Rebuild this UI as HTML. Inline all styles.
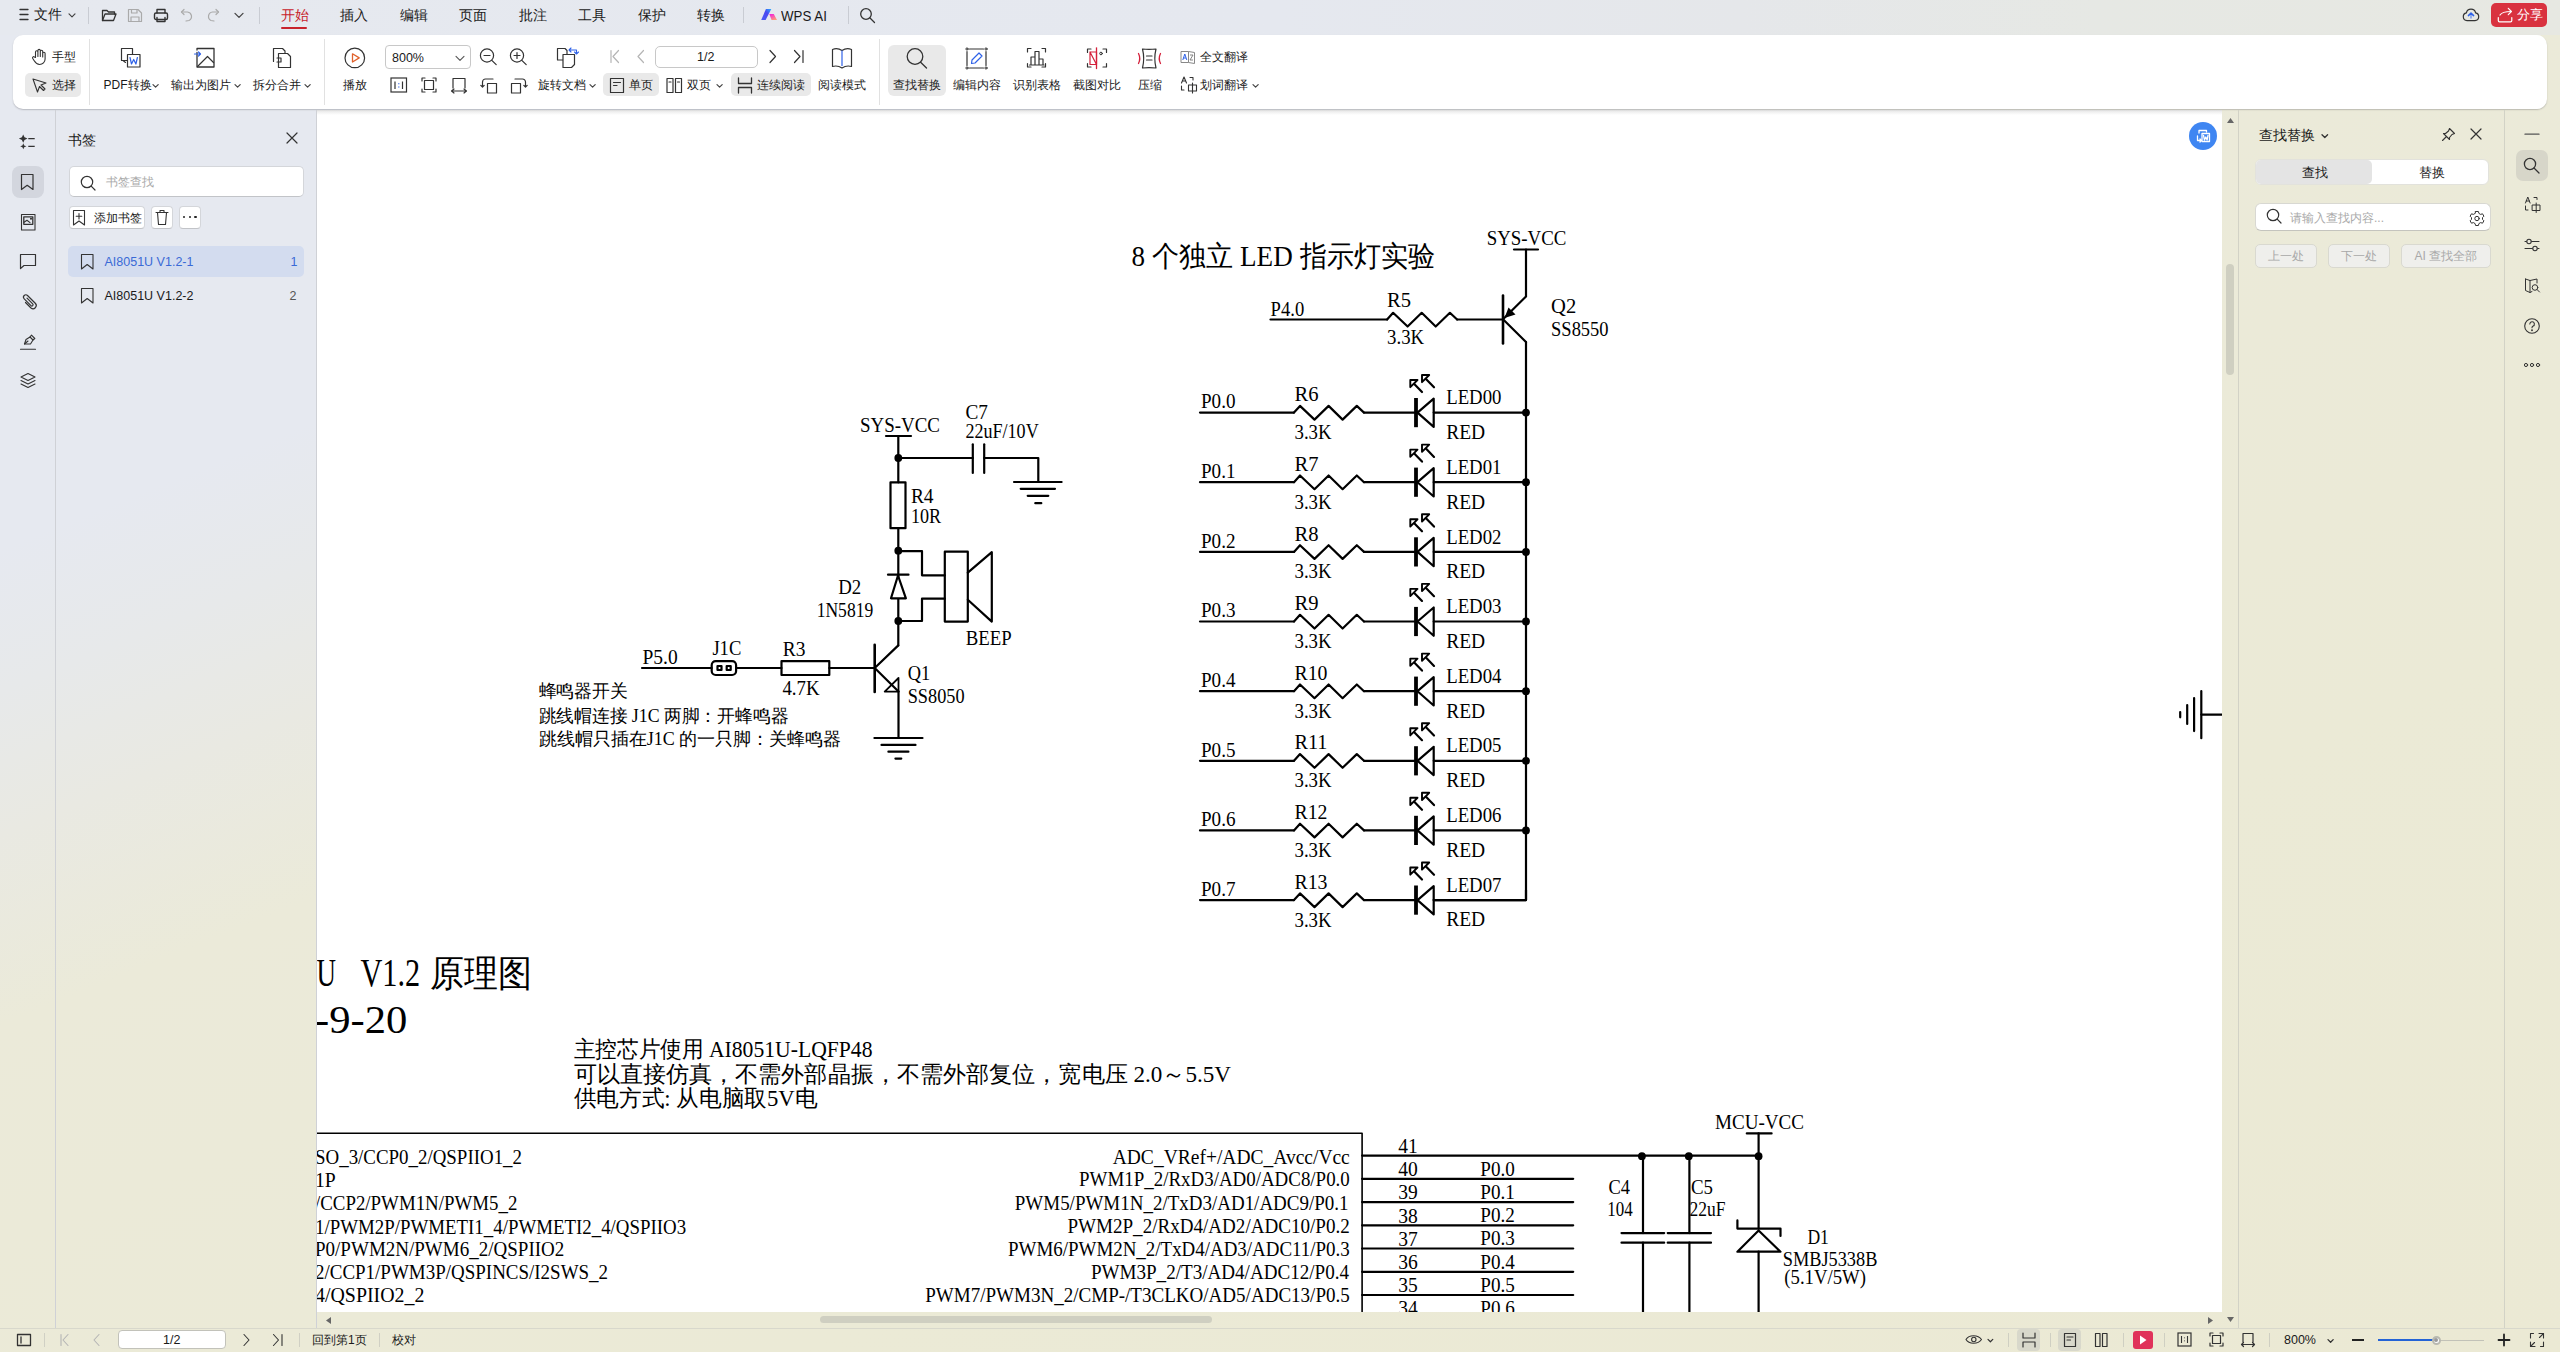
<!DOCTYPE html>
<html><head><meta charset="utf-8"><title>WPS PDF</title>
<style>
*{margin:0;padding:0;box-sizing:border-box}
html,body{width:2560px;height:1352px;overflow:hidden}
body{position:relative;font-family:"Liberation Sans",sans-serif;font-size:12px;color:#1a1a1a;
background:linear-gradient(158deg,#e6e9f0 0%,#e6e9f0 23%,#e7e9ea 29%,#e9e9e2 35%,#ebead9 43%,#ebead6 70%,#ebe9d4 100%)}
.a{position:absolute;white-space:nowrap}
svg.a{overflow:visible}
</style></head><body>
<div class="a" style="left:0;top:0;width:2560px;height:35px;background:linear-gradient(90deg,#e6e9ef 0%,#e5e8ef 50%,#e5e7ea 68%,#e6e8e4 82%,#e7e8e2 100%)"></div>
<div class="a" style="left:317px;top:110px;width:1905px;height:1202px;background:#fff;overflow:hidden">
<svg class="a" style="left:-317px;top:-110px" width="2560" height="1352" viewBox="0 0 2560 1352"><g fill="none" stroke="#000" stroke-width="2.2" stroke-linecap="round" stroke-linejoin="round"><line x1="1514.0" y1="249.5" x2="1538.0" y2="249.5"/><line x1="1526.0" y1="249.5" x2="1526.0" y2="296.0"/><line x1="1503" y1="295.6" x2="1503" y2="343.4" stroke-width="2.6"/><polyline points="1503.0,319.2 1526.0,296.5"/><polyline points="1503.0,319.2 1526.0,342.0"/><polygon points="1504.5,318 1508.5,307.5 1515.5,314.5" fill="#000" stroke="none"/><line x1="1526.0" y1="342.0" x2="1526.0" y2="900.0"/><polyline points="1270.5,319.5 1387.1,319.5"/><polyline points="1387.1,319.5 1393.1,312.8 1407.6,326.5 1421.7,312.8 1435.7,326.5 1449.9,312.8 1457.1,319.5"/><polyline points="1457.1,319.5 1503.0,319.5"/><polyline points="1200.0,412.6 1294.0,412.6"/><polyline points="1294.0,412.6 1300.0,405.9 1314.5,419.6 1328.6,405.9 1342.6,419.6 1356.8,405.9 1364.0,412.6"/><polyline points="1364.0,412.6 1416.0,412.6"/><line x1="1416" y1="398.0" x2="1416" y2="427.2" stroke-width="3.8" stroke-linecap="butt"/><polygon points="1417.5,412.6 1433.7,398.6 1433.7,426.9"/><polyline points="1433.7,412.6 1526.0,412.6"/><circle cx="1526.0" cy="412.6" r="3.9" fill="#000" stroke="none"/><line x1="1422.0" y1="392.0" x2="1412.8" y2="382.5"/><polygon points="1410.3,380.0 1417.5,380.0 1410.3,387.2" fill="#fff" stroke-width="1.9"/><line x1="1434.0" y1="387.3" x2="1424.5" y2="377.5"/><polygon points="1422.0,375.0 1429.2,375.0 1422.0,382.2" fill="#fff" stroke-width="1.9"/><polyline points="1200.0,482.2 1294.0,482.2"/><polyline points="1294.0,482.2 1300.0,475.5 1314.5,489.2 1328.6,475.5 1342.6,489.2 1356.8,475.5 1364.0,482.2"/><polyline points="1364.0,482.2 1416.0,482.2"/><line x1="1416" y1="467.6" x2="1416" y2="496.8" stroke-width="3.8" stroke-linecap="butt"/><polygon points="1417.5,482.2 1433.7,468.2 1433.7,496.5"/><polyline points="1433.7,482.2 1526.0,482.2"/><circle cx="1526.0" cy="482.2" r="3.9" fill="#000" stroke="none"/><line x1="1422.0" y1="461.6" x2="1412.8" y2="452.1"/><polygon points="1410.3,449.6 1417.5,449.6 1410.3,456.8" fill="#fff" stroke-width="1.9"/><line x1="1434.0" y1="456.9" x2="1424.5" y2="447.1"/><polygon points="1422.0,444.6 1429.2,444.6 1422.0,451.8" fill="#fff" stroke-width="1.9"/><polyline points="1200.0,551.9 1294.0,551.9"/><polyline points="1294.0,551.9 1300.0,545.2 1314.5,558.9 1328.6,545.2 1342.6,558.9 1356.8,545.2 1364.0,551.9"/><polyline points="1364.0,551.9 1416.0,551.9"/><line x1="1416" y1="537.3" x2="1416" y2="566.5" stroke-width="3.8" stroke-linecap="butt"/><polygon points="1417.5,551.9 1433.7,537.9 1433.7,566.2"/><polyline points="1433.7,551.9 1526.0,551.9"/><circle cx="1526.0" cy="551.9" r="3.9" fill="#000" stroke="none"/><line x1="1422.0" y1="531.3" x2="1412.8" y2="521.8"/><polygon points="1410.3,519.3 1417.5,519.3 1410.3,526.5" fill="#fff" stroke-width="1.9"/><line x1="1434.0" y1="526.6" x2="1424.5" y2="516.8"/><polygon points="1422.0,514.3 1429.2,514.3 1422.0,521.5" fill="#fff" stroke-width="1.9"/><polyline points="1200.0,621.5 1294.0,621.5"/><polyline points="1294.0,621.5 1300.0,614.8 1314.5,628.5 1328.6,614.8 1342.6,628.5 1356.8,614.8 1364.0,621.5"/><polyline points="1364.0,621.5 1416.0,621.5"/><line x1="1416" y1="606.9" x2="1416" y2="636.1" stroke-width="3.8" stroke-linecap="butt"/><polygon points="1417.5,621.5 1433.7,607.5 1433.7,635.8"/><polyline points="1433.7,621.5 1526.0,621.5"/><circle cx="1526.0" cy="621.5" r="3.9" fill="#000" stroke="none"/><line x1="1422.0" y1="600.9" x2="1412.8" y2="591.4"/><polygon points="1410.3,588.9 1417.5,588.9 1410.3,596.1" fill="#fff" stroke-width="1.9"/><line x1="1434.0" y1="596.2" x2="1424.5" y2="586.4"/><polygon points="1422.0,583.9 1429.2,583.9 1422.0,591.1" fill="#fff" stroke-width="1.9"/><polyline points="1200.0,691.2 1294.0,691.2"/><polyline points="1294.0,691.2 1300.0,684.5 1314.5,698.2 1328.6,684.5 1342.6,698.2 1356.8,684.5 1364.0,691.2"/><polyline points="1364.0,691.2 1416.0,691.2"/><line x1="1416" y1="676.6" x2="1416" y2="705.8" stroke-width="3.8" stroke-linecap="butt"/><polygon points="1417.5,691.2 1433.7,677.2 1433.7,705.5"/><polyline points="1433.7,691.2 1526.0,691.2"/><circle cx="1526.0" cy="691.2" r="3.9" fill="#000" stroke="none"/><line x1="1422.0" y1="670.6" x2="1412.8" y2="661.1"/><polygon points="1410.3,658.6 1417.5,658.6 1410.3,665.8" fill="#fff" stroke-width="1.9"/><line x1="1434.0" y1="665.9" x2="1424.5" y2="656.1"/><polygon points="1422.0,653.6 1429.2,653.6 1422.0,660.8" fill="#fff" stroke-width="1.9"/><polyline points="1200.0,760.8 1294.0,760.8"/><polyline points="1294.0,760.8 1300.0,754.1 1314.5,767.8 1328.6,754.1 1342.6,767.8 1356.8,754.1 1364.0,760.8"/><polyline points="1364.0,760.8 1416.0,760.8"/><line x1="1416" y1="746.2" x2="1416" y2="775.4" stroke-width="3.8" stroke-linecap="butt"/><polygon points="1417.5,760.8 1433.7,746.8 1433.7,775.1"/><polyline points="1433.7,760.8 1526.0,760.8"/><circle cx="1526.0" cy="760.8" r="3.9" fill="#000" stroke="none"/><line x1="1422.0" y1="740.2" x2="1412.8" y2="730.7"/><polygon points="1410.3,728.2 1417.5,728.2 1410.3,735.4" fill="#fff" stroke-width="1.9"/><line x1="1434.0" y1="735.5" x2="1424.5" y2="725.7"/><polygon points="1422.0,723.2 1429.2,723.2 1422.0,730.4" fill="#fff" stroke-width="1.9"/><polyline points="1200.0,830.4 1294.0,830.4"/><polyline points="1294.0,830.4 1300.0,823.7 1314.5,837.4 1328.6,823.7 1342.6,837.4 1356.8,823.7 1364.0,830.4"/><polyline points="1364.0,830.4 1416.0,830.4"/><line x1="1416" y1="815.8" x2="1416" y2="845.0" stroke-width="3.8" stroke-linecap="butt"/><polygon points="1417.5,830.4 1433.7,816.4 1433.7,844.7"/><polyline points="1433.7,830.4 1526.0,830.4"/><circle cx="1526.0" cy="830.4" r="3.9" fill="#000" stroke="none"/><line x1="1422.0" y1="809.8" x2="1412.8" y2="800.3"/><polygon points="1410.3,797.8 1417.5,797.8 1410.3,805.0" fill="#fff" stroke-width="1.9"/><line x1="1434.0" y1="805.1" x2="1424.5" y2="795.3"/><polygon points="1422.0,792.8 1429.2,792.8 1422.0,800.0" fill="#fff" stroke-width="1.9"/><polyline points="1200.0,900.1 1294.0,900.1"/><polyline points="1294.0,900.1 1300.0,893.4 1314.5,907.1 1328.6,893.4 1342.6,907.1 1356.8,893.4 1364.0,900.1"/><polyline points="1364.0,900.1 1416.0,900.1"/><line x1="1416" y1="885.5" x2="1416" y2="914.7" stroke-width="3.8" stroke-linecap="butt"/><polygon points="1417.5,900.1 1433.7,886.1 1433.7,914.4"/><polyline points="1433.7,900.1 1526.0,900.1"/><polyline points="1433.7,900.1 1526.0,900.1 1526.0,890.1"/><line x1="1422.0" y1="879.5" x2="1412.8" y2="870.0"/><polygon points="1410.3,867.5 1417.5,867.5 1410.3,874.7" fill="#fff" stroke-width="1.9"/><line x1="1434.0" y1="874.8" x2="1424.5" y2="865.0"/><polygon points="1422.0,862.5 1429.2,862.5 1422.0,869.7" fill="#fff" stroke-width="1.9"/><line x1="886.0" y1="436.0" x2="911.0" y2="436.0"/><line x1="898.3" y1="436.0" x2="898.3" y2="482.3"/><circle cx="898.3" cy="458.0" r="3.9" fill="#000" stroke="none"/><polyline points="898.3,458.0 972.8,458.0"/><line x1="972.8" y1="444.3" x2="972.8" y2="472.9"/><line x1="984.2" y1="444.3" x2="984.2" y2="472.9"/><polyline points="984.2,458.0 1038.3,458.0 1038.3,482.0"/><line x1="1014.0" y1="482.0" x2="1061.6" y2="482.0"/><line x1="1020.7" y1="488.8" x2="1055.0" y2="488.8"/><line x1="1027.7" y1="495.8" x2="1048.3" y2="495.8"/><line x1="1035.3" y1="503.2" x2="1041.3" y2="503.2"/><rect x="890.5" y="482.3" width="15.0" height="45.9" rx="0"/><line x1="898.3" y1="528.2" x2="898.3" y2="645.4"/><circle cx="898.3" cy="550.7" r="3.9" fill="#000" stroke="none"/><polyline points="898.3,551.2 922.0,551.2 922.0,575.3 944.8,575.3"/><rect x="944.8" y="551.7" width="23.0" height="69.9" rx="0"/><polyline points="967.8,572.7 991.8,552.1 991.8,621.6 967.8,599.7"/><polyline points="944.8,598.7 922.0,598.7 922.0,621.0 898.3,621.0"/><line x1="888.0" y1="574.7" x2="908.5" y2="574.7"/><polygon points="898,575.5 891,598.3 905.9,598.3" fill="#fff"/><circle cx="898.3" cy="621.0" r="3.9" fill="#000" stroke="none"/><polyline points="642.0,668.0 711.7,668.0"/><rect x="711.7" y="661.2" width="24.4" height="13.8" rx="4" stroke-width="2.2"/><rect x="717.5" y="666.0" width="4.0" height="4.0" rx="0"/><rect x="726.7" y="666.0" width="4.0" height="4.0" rx="0"/><polyline points="736.1,668.0 781.5,668.0"/><rect x="781.5" y="661.2" width="47.8" height="13.8" stroke-width="2.2"/><polyline points="829.3,668.0 874.7,668.0"/><line x1="874.7" y1="644.7" x2="874.7" y2="692" stroke-width="2.6"/><polyline points="874.7,668.0 898.3,645.4"/><polyline points="874.7,668.0 898.5,691.5"/><polygon points="884.7,691.6 898.5,678 898.5,691.6" stroke-width="1.8"/><line x1="898.5" y1="691.5" x2="898.5" y2="738.0"/><line x1="874.4" y1="738.0" x2="922.5" y2="738.0"/><line x1="881.5" y1="744.9" x2="915.5" y2="744.9"/><line x1="888.4" y1="751.7" x2="908.4" y2="751.7"/><line x1="895.4" y1="758.6" x2="901.3" y2="758.6"/><line x1="2201.3" y1="714.6" x2="2224.0" y2="714.6"/><line x1="2201.3" y1="691.0" x2="2201.3" y2="738.2"/><line x1="2194.1" y1="698.0" x2="2194.1" y2="731.1"/><line x1="2187.2" y1="705.0" x2="2187.2" y2="724.0"/><line x1="2180.2" y1="712.0" x2="2180.2" y2="717.3"/><polyline points="300,1133.3 1362.1,1133.3 1362.1,1330" stroke-width="1.6"/><polyline points="1362.1,1155.6 1758.6,1155.6"/><polyline points="1362.1,1178.8 1573.2,1178.8"/><polyline points="1362.1,1202.1 1573.2,1202.1"/><polyline points="1362.1,1225.3 1573.2,1225.3"/><polyline points="1362.1,1248.5 1573.2,1248.5"/><polyline points="1362.1,1271.8 1573.2,1271.8"/><polyline points="1362.1,1295.0 1573.2,1295.0"/><polyline points="1362.1,1318.2 1573.2,1318.2"/><line x1="1746.8" y1="1133.4" x2="1771.6" y2="1133.4"/><line x1="1758.6" y1="1133.4" x2="1758.6" y2="1228.6"/><circle cx="1641.9" cy="1156.2" r="3.9" fill="#000" stroke="none"/><circle cx="1688.8" cy="1156.2" r="3.9" fill="#000" stroke="none"/><circle cx="1758.6" cy="1156.2" r="3.9" fill="#000" stroke="none"/><line x1="1643.0" y1="1156.2" x2="1643.0" y2="1233.1"/><line x1="1621.5" y1="1233.1" x2="1664.2" y2="1233.1"/><line x1="1621.5" y1="1242.7" x2="1664.2" y2="1242.7"/><line x1="1643.0" y1="1242.7" x2="1643.0" y2="1330.0"/><line x1="1689.4" y1="1156.2" x2="1689.4" y2="1233.1"/><line x1="1667.7" y1="1233.1" x2="1711.0" y2="1233.1"/><line x1="1667.7" y1="1242.7" x2="1711.0" y2="1242.7"/><line x1="1689.4" y1="1242.7" x2="1689.4" y2="1330.0"/><polyline points="1737.4,1220.4 1737.4,1228.6 1780.5,1228.6 1780.5,1235.9"/><polygon points="1758.6,1230.5 1737.4,1251.7 1780.5,1251.7"/><line x1="1758.6" y1="1251.7" x2="1758.6" y2="1330.0"/></g><g font-family="Liberation Serif, serif" font-size="20.6" fill="#000"><text x="1486.7" y="244.5" textLength="79.7" lengthAdjust="spacingAndGlyphs">SYS-VCC</text><text x="1551.1" y="312.5">Q2</text><text x="1551.1" y="335.5" textLength="57.5" lengthAdjust="spacingAndGlyphs">SS8550</text><text x="1270.6" y="315.5" textLength="33.6" lengthAdjust="spacingAndGlyphs">P4.0</text><text x="1387.1" y="307.3">R5</text><text x="1387.1" y="344.1" textLength="37.1" lengthAdjust="spacingAndGlyphs">3.3K</text><text x="1131.6" y="266.3" font-size="29" textLength="303.5" lengthAdjust="spacingAndGlyphs">8 个独立 LED 指示灯实验</text><text x="1201.0" y="408.4" textLength="34.5" lengthAdjust="spacingAndGlyphs">P0.0</text><text x="1294.5" y="401.2">R6</text><text x="1294.5" y="439.1" textLength="37.1" lengthAdjust="spacingAndGlyphs">3.3K</text><text x="1446.2" y="404.2" textLength="55.2" lengthAdjust="spacingAndGlyphs">LED00</text><text x="1446.2" y="438.9" textLength="39.0" lengthAdjust="spacingAndGlyphs">RED</text><text x="1201.0" y="478.0" textLength="34.5" lengthAdjust="spacingAndGlyphs">P0.1</text><text x="1294.5" y="470.8">R7</text><text x="1294.5" y="508.7" textLength="37.1" lengthAdjust="spacingAndGlyphs">3.3K</text><text x="1446.2" y="473.8" textLength="55.2" lengthAdjust="spacingAndGlyphs">LED01</text><text x="1446.2" y="508.5" textLength="39.0" lengthAdjust="spacingAndGlyphs">RED</text><text x="1201.0" y="547.7" textLength="34.5" lengthAdjust="spacingAndGlyphs">P0.2</text><text x="1294.5" y="540.5">R8</text><text x="1294.5" y="578.4" textLength="37.1" lengthAdjust="spacingAndGlyphs">3.3K</text><text x="1446.2" y="543.5" textLength="55.2" lengthAdjust="spacingAndGlyphs">LED02</text><text x="1446.2" y="578.2" textLength="39.0" lengthAdjust="spacingAndGlyphs">RED</text><text x="1201.0" y="617.3" textLength="34.5" lengthAdjust="spacingAndGlyphs">P0.3</text><text x="1294.5" y="610.1">R9</text><text x="1294.5" y="648.0" textLength="37.1" lengthAdjust="spacingAndGlyphs">3.3K</text><text x="1446.2" y="613.1" textLength="55.2" lengthAdjust="spacingAndGlyphs">LED03</text><text x="1446.2" y="647.8" textLength="39.0" lengthAdjust="spacingAndGlyphs">RED</text><text x="1201.0" y="687.0" textLength="34.5" lengthAdjust="spacingAndGlyphs">P0.4</text><text x="1294.5" y="679.8" textLength="33.0" lengthAdjust="spacingAndGlyphs">R10</text><text x="1294.5" y="717.7" textLength="37.1" lengthAdjust="spacingAndGlyphs">3.3K</text><text x="1446.2" y="682.8" textLength="55.2" lengthAdjust="spacingAndGlyphs">LED04</text><text x="1446.2" y="717.5" textLength="39.0" lengthAdjust="spacingAndGlyphs">RED</text><text x="1201.0" y="756.6" textLength="34.5" lengthAdjust="spacingAndGlyphs">P0.5</text><text x="1294.5" y="749.4" textLength="33.0" lengthAdjust="spacingAndGlyphs">R11</text><text x="1294.5" y="787.3" textLength="37.1" lengthAdjust="spacingAndGlyphs">3.3K</text><text x="1446.2" y="752.4" textLength="55.2" lengthAdjust="spacingAndGlyphs">LED05</text><text x="1446.2" y="787.1" textLength="39.0" lengthAdjust="spacingAndGlyphs">RED</text><text x="1201.0" y="826.2" textLength="34.5" lengthAdjust="spacingAndGlyphs">P0.6</text><text x="1294.5" y="819.0" textLength="33.0" lengthAdjust="spacingAndGlyphs">R12</text><text x="1294.5" y="856.9" textLength="37.1" lengthAdjust="spacingAndGlyphs">3.3K</text><text x="1446.2" y="822.0" textLength="55.2" lengthAdjust="spacingAndGlyphs">LED06</text><text x="1446.2" y="856.7" textLength="39.0" lengthAdjust="spacingAndGlyphs">RED</text><text x="1201.0" y="895.9" textLength="34.5" lengthAdjust="spacingAndGlyphs">P0.7</text><text x="1294.5" y="888.7" textLength="33.0" lengthAdjust="spacingAndGlyphs">R13</text><text x="1294.5" y="926.6" textLength="37.1" lengthAdjust="spacingAndGlyphs">3.3K</text><text x="1446.2" y="891.7" textLength="55.2" lengthAdjust="spacingAndGlyphs">LED07</text><text x="1446.2" y="926.4" textLength="39.0" lengthAdjust="spacingAndGlyphs">RED</text><text x="860.0" y="432.0" textLength="80.0" lengthAdjust="spacingAndGlyphs">SYS-VCC</text><text x="965.4" y="419.0" textLength="22.5" lengthAdjust="spacingAndGlyphs">C7</text><text x="965.4" y="438.3" textLength="73.3" lengthAdjust="spacingAndGlyphs">22uF/10V</text><text x="910.9" y="503.4" textLength="22.7" lengthAdjust="spacingAndGlyphs">R4</text><text x="910.9" y="523.4" textLength="30.2" lengthAdjust="spacingAndGlyphs">10R</text><text x="838.2" y="594.4" textLength="23.0" lengthAdjust="spacingAndGlyphs">D2</text><text x="816.7" y="617.3" textLength="56.5" lengthAdjust="spacingAndGlyphs">1N5819</text><text x="965.8" y="645.2" textLength="45.9" lengthAdjust="spacingAndGlyphs">BEEP</text><text x="642.5" y="663.5" textLength="35.2" lengthAdjust="spacingAndGlyphs">P5.0</text><text x="712.4" y="654.6" textLength="28.9" lengthAdjust="spacingAndGlyphs">J1C</text><text x="782.7" y="656.0" textLength="22.7" lengthAdjust="spacingAndGlyphs">R3</text><text x="782.4" y="694.5" textLength="37.3" lengthAdjust="spacingAndGlyphs">4.7K</text><text x="907.7" y="680.2" textLength="22.5" lengthAdjust="spacingAndGlyphs">Q1</text><text x="907.7" y="703.1" textLength="56.9" lengthAdjust="spacingAndGlyphs">SS8050</text><text x="538.6" y="696.5" font-size="18" textLength="89.0" lengthAdjust="spacingAndGlyphs">蜂鸣器开关</text><text x="538.6" y="721.5" font-size="18" textLength="249.7" lengthAdjust="spacingAndGlyphs">跳线帽连接 J1C 两脚：开蜂鸣器</text><text x="538.6" y="744.8" font-size="18" textLength="302.8" lengthAdjust="spacingAndGlyphs">跳线帽只插在J1C 的一只脚：关蜂鸣器</text><text x="316.6" y="985.7" font-size="39" textLength="19.5" lengthAdjust="spacingAndGlyphs">U</text><text x="360.4" y="985.7" font-size="39" textLength="59.7" lengthAdjust="spacingAndGlyphs">V1.2</text><text x="429.5" y="985.7" font-size="37" textLength="102.0" lengthAdjust="spacingAndGlyphs">原理图</text><text x="315.0" y="1032.6" font-size="40" textLength="92.3" lengthAdjust="spacingAndGlyphs">-9-20</text><text x="573.6" y="1057.2" font-size="23" textLength="298.9" lengthAdjust="spacingAndGlyphs">主控芯片使用 AI8051U-LQFP48</text><text x="573.6" y="1081.8" font-size="23" textLength="657.4" lengthAdjust="spacingAndGlyphs">可以直接仿真，不需外部晶振，不需外部复位，宽电压 2.0～5.5V</text><text x="573.6" y="1106.4" font-size="23" textLength="243.8" lengthAdjust="spacingAndGlyphs">供电方式: 从电脑取5V电</text><text x="315.0" y="1164.0" textLength="207.0" lengthAdjust="spacingAndGlyphs">SO_3/CCP0_2/QSPIIO1_2</text><text x="315.0" y="1186.8" textLength="20.8" lengthAdjust="spacingAndGlyphs">1P</text><text x="315.0" y="1209.8" textLength="202.4" lengthAdjust="spacingAndGlyphs">/CCP2/PWM1N/PWM5_2</text><text x="315.0" y="1233.7" textLength="371.1" lengthAdjust="spacingAndGlyphs">1/PWM2P/PWMETI1_4/PWMETI2_4/QSPIIO3</text><text x="315.0" y="1256.4" textLength="249.3" lengthAdjust="spacingAndGlyphs">P0/PWM2N/PWM6_2/QSPIIO2</text><text x="315.0" y="1279.4" textLength="293.1" lengthAdjust="spacingAndGlyphs">2/CCP1/PWM3P/QSPINCS/I2SWS_2</text><text x="315.0" y="1302.3" textLength="109.4" lengthAdjust="spacingAndGlyphs">4/QSPIIO2_2</text><text x="1112.7" y="1163.8" textLength="237.1" lengthAdjust="spacingAndGlyphs">ADC_VRef+/ADC_Avcc/Vcc</text><text x="1079.1" y="1186.4" textLength="270.7" lengthAdjust="spacingAndGlyphs">PWM1P_2/RxD3/AD0/ADC8/P0.0</text><text x="1014.8" y="1209.5" textLength="333.7" lengthAdjust="spacingAndGlyphs">PWM5/PWM1N_2/TxD3/AD1/ADC9/P0.1</text><text x="1067.4" y="1232.6" textLength="282.4" lengthAdjust="spacingAndGlyphs">PWM2P_2/RxD4/AD2/ADC10/P0.2</text><text x="1008.0" y="1255.7" textLength="341.8" lengthAdjust="spacingAndGlyphs">PWM6/PWM2N_2/TxD4/AD3/ADC11/P0.3</text><text x="1090.9" y="1278.8" textLength="258.1" lengthAdjust="spacingAndGlyphs">PWM3P_2/T3/AD4/ADC12/P0.4</text><text x="925.2" y="1301.9" textLength="424.6" lengthAdjust="spacingAndGlyphs">PWM7/PWM3N_2/CMP-/T3CLKO/AD5/ADC13/P0.5</text><text x="1398.2" y="1152.8" textLength="19.5" lengthAdjust="spacingAndGlyphs">41</text><text x="1398.2" y="1176.0" textLength="19.5" lengthAdjust="spacingAndGlyphs">40</text><text x="1480.3" y="1175.5" textLength="34.5" lengthAdjust="spacingAndGlyphs">P0.0</text><text x="1398.2" y="1199.3" textLength="19.5" lengthAdjust="spacingAndGlyphs">39</text><text x="1480.3" y="1198.8" textLength="34.5" lengthAdjust="spacingAndGlyphs">P0.1</text><text x="1398.2" y="1222.5" textLength="19.5" lengthAdjust="spacingAndGlyphs">38</text><text x="1480.3" y="1222.0" textLength="34.5" lengthAdjust="spacingAndGlyphs">P0.2</text><text x="1398.2" y="1245.7" textLength="19.5" lengthAdjust="spacingAndGlyphs">37</text><text x="1480.3" y="1245.2" textLength="34.5" lengthAdjust="spacingAndGlyphs">P0.3</text><text x="1398.2" y="1269.0" textLength="19.5" lengthAdjust="spacingAndGlyphs">36</text><text x="1480.3" y="1268.5" textLength="34.5" lengthAdjust="spacingAndGlyphs">P0.4</text><text x="1398.2" y="1292.2" textLength="19.5" lengthAdjust="spacingAndGlyphs">35</text><text x="1480.3" y="1291.7" textLength="34.5" lengthAdjust="spacingAndGlyphs">P0.5</text><text x="1398.2" y="1315.4" textLength="19.5" lengthAdjust="spacingAndGlyphs">34</text><text x="1480.3" y="1314.9" textLength="34.5" lengthAdjust="spacingAndGlyphs">P0.6</text><text x="1715.0" y="1129.0" textLength="89.0" lengthAdjust="spacingAndGlyphs">MCU-VCC</text><text x="1608.5" y="1193.6" textLength="21.5" lengthAdjust="spacingAndGlyphs">C4</text><text x="1607.2" y="1215.6" textLength="25.5" lengthAdjust="spacingAndGlyphs">104</text><text x="1691.0" y="1193.6" textLength="22.0" lengthAdjust="spacingAndGlyphs">C5</text><text x="1689.4" y="1215.6" textLength="36.0" lengthAdjust="spacingAndGlyphs">22uF</text><text x="1807.4" y="1244.0" textLength="21.5" lengthAdjust="spacingAndGlyphs">D1</text><text x="1782.7" y="1266.0" textLength="94.7" lengthAdjust="spacingAndGlyphs">SMBJ5338B</text><text x="1784.3" y="1284.0" textLength="81.7" lengthAdjust="spacingAndGlyphs">(5.1V/5W)</text></g></svg>
<div class="a" style="left:0;top:0;width:1905px;height:5px;background:linear-gradient(#e6e6e6,rgba(255,255,255,0))"></div>
</div>
<div class="a" style="left:2189px;top:122px;width:28px;height:28px;border-radius:50%;background:#3f86f2"></div>
<svg class="a" style="left:2193px;top:126px" width="20" height="20" viewBox="0 0 20 20" fill="none" stroke="#fff" stroke-width="1.3" stroke-linecap="round" stroke-linejoin="round"><path d="M6 7V4.5H13.5V6"/><rect x="9" y="7.5" width="7.5" height="8" fill="#3f86f2"/><path d="M10.5 9.5L11.5 14L12.8 11L14.1 14L15 9.5"/><path d="M4.5 10V14.5H8.5M7 13L8.5 14.5L7 16"/></svg>
<svg class="a" style="left:19px;top:8px;" width="10" height="13" viewBox="0 0 10 13" fill="none" stroke="#333" stroke-width="1.3" stroke-linecap="round" stroke-linejoin="round"><path d="M1 1.5H9M1 6.5H9M1 11.5H9"/></svg>
<div class="a" style="left:34.3px;top:6.2px;font-size:13.5px;line-height:17.5px;color:#1a1a1a;">文件</div>
<svg class="a" style="left:68px;top:12px;" width="8" height="6" viewBox="0 0 8 6" fill="none" stroke="#444" stroke-width="1.2" stroke-linecap="round" stroke-linejoin="round"><polyline points="1,1.8 4,4.8 7,1.8"/></svg>
<div class="a" style="left:88px;top:7px;width:1px;height:17px;background:#c9ccd3"></div>
<svg class="a" style="left:101px;top:8px;" width="16" height="14" viewBox="0 0 16 14" fill="none" stroke="#333" stroke-width="1.3" stroke-linecap="round" stroke-linejoin="round"><path d="M1.5 12.5V2.5H6L7.5 4H13.5V6"/><path d="M1.5 12.5L4 6H15L12.5 12.5Z"/></svg>
<svg class="a" style="left:127px;top:8px;" width="16" height="15" viewBox="0 0 16 15" fill="none" stroke="#aaa" stroke-width="1.2" stroke-linecap="round" stroke-linejoin="round"><path d="M1.5 1.5H11L14.5 5V13.5H1.5Z"/><path d="M4.5 1.5V5H10V1.5"/><path d="M4 13.5V9H12V13.5"/></svg>
<svg class="a" style="left:153px;top:8px;" width="16" height="15" viewBox="0 0 16 15" fill="none" stroke="#333" stroke-width="1.4" stroke-linecap="round" stroke-linejoin="round"><path d="M4 5V1.5H12V5"/><rect x="1.5" y="5" width="13" height="6.5" rx="1.5"/><path d="M4 9.5V13.5H12V9.5"/></svg>
<svg class="a" style="left:180px;top:8px;" width="14" height="14" viewBox="0 0 14 14" fill="none" stroke="#aaa" stroke-width="1.2" stroke-linecap="round" stroke-linejoin="round"><path d="M4 1.5L1.5 4L4 6.5"/><path d="M1.5 4H7.5A4.5 4.5 0 0 1 9 12.5L6 13"/></svg>
<svg class="a" style="left:206px;top:8px;" width="14" height="14" viewBox="0 0 14 14" fill="none" stroke="#aaa" stroke-width="1.2" stroke-linecap="round" stroke-linejoin="round"><path d="M10 1.5L12.5 4L10 6.5"/><path d="M12.5 4H6.5A4.5 4.5 0 0 0 5 12.5L8 13"/></svg>
<svg class="a" style="left:234px;top:11px;" width="10" height="8" viewBox="0 0 10 8" fill="none" stroke="#444" stroke-width="1.3" stroke-linecap="round" stroke-linejoin="round"><polyline points="1,2.4 5,6.4 9,2.4"/></svg>
<div class="a" style="left:259px;top:7px;width:1px;height:17px;background:#c9ccd3"></div>
<div class="a" style="left:281px;top:6.8px;font-size:13.5px;line-height:17.5px;color:#c8232c;">开始</div>
<div class="a" style="left:340px;top:6.8px;font-size:13.5px;line-height:17.5px;color:#1a1a1a;">插入</div>
<div class="a" style="left:400px;top:6.8px;font-size:13.5px;line-height:17.5px;color:#1a1a1a;">编辑</div>
<div class="a" style="left:459px;top:6.8px;font-size:13.5px;line-height:17.5px;color:#1a1a1a;">页面</div>
<div class="a" style="left:519px;top:6.8px;font-size:13.5px;line-height:17.5px;color:#1a1a1a;">批注</div>
<div class="a" style="left:578px;top:6.8px;font-size:13.5px;line-height:17.5px;color:#1a1a1a;">工具</div>
<div class="a" style="left:638px;top:6.8px;font-size:13.5px;line-height:17.5px;color:#1a1a1a;">保护</div>
<div class="a" style="left:697px;top:6.8px;font-size:13.5px;line-height:17.5px;color:#1a1a1a;">转换</div>
<div class="a" style="left:281px;top:27px;width:26px;height:2px;background:#c8232c;border-radius:1px"></div>
<div class="a" style="left:743px;top:7px;width:1px;height:16px;background:#c9ccd3"></div>
<svg class="a" style="left:760px;top:8px" width="18" height="14" viewBox="760 8 18 14"><defs><linearGradient id="wgb" x1="0" y1="1" x2="1" y2="0"><stop offset="0" stop-color="#4a5cf6"/><stop offset="0.6" stop-color="#4a48f0"/><stop offset="1" stop-color="#25b0ff"/></linearGradient><linearGradient id="wgp" x1="0" y1="0" x2="0.6" y2="1"><stop offset="0" stop-color="#f018e6"/><stop offset="1" stop-color="#ff9a7a"/></linearGradient></defs><path d="M761.2 20L765.6 20L771.3 9L765.9 9Z" fill="url(#wgb)"/><path d="M769.3 14L773.8 14L777 20L771.6 20Z" fill="url(#wgp)"/></svg>
<div class="a" style="left:781px;top:7.0px;font-size:14px;line-height:18px;color:#1a1a1a;transform:scaleX(0.95);transform-origin:0 0">WPS AI</div>
<div class="a" style="left:848px;top:6px;width:1px;height:18px;background:#c9ccd3"></div>
<svg class="a" style="left:859px;top:7px;" width="17" height="17" viewBox="0 0 17 17" fill="none" stroke="#333" stroke-width="1.3" stroke-linecap="round" stroke-linejoin="round"><circle cx="7" cy="7" r="5.3"/><path d="M11 11L15.5 15.5"/></svg>
<svg class="a" style="left:2461px;top:6px" width="20" height="17" viewBox="0 0 20 17"><path d="M6 14.6H14A3.95 3.95 0 0 0 14.6 6.8A4.7 4.7 0 0 0 5.4 6.8A3.95 3.95 0 0 0 6 14.6Z" fill="none" stroke="#333" stroke-width="1.2"/><path d="M10 12.6V8" stroke="#7f9ff0" stroke-width="1.6"/><path d="M7.4 9.6L10 7.1L12.6 9.6" fill="none" stroke="#2f62e8" stroke-width="1.5" stroke-linecap="round" stroke-linejoin="round"/></svg>
<div class="a" style="left:2491px;top:3px;width:56px;height:24px;background:#d9323f;border-radius:5px"></div>
<svg class="a" style="left:2496px;top:6px;" width="18" height="18" viewBox="0 0 18 18" fill="none" stroke="#fff" stroke-width="1.2" stroke-linecap="round" stroke-linejoin="round"><path d="M2.3 11.5V14.5A1.3 1.3 0 0 0 3.6 15.8H14.5A1.3 1.3 0 0 0 15.8 14.5V11.5"/><path d="M4 9C5.5 6.5 8.5 5.5 15.2 5.5"/><path d="M12.3 2.3L15.4 5.5L12.3 8.7"/></svg>
<div class="a" style="left:2516.5px;top:6.3px;font-size:13px;line-height:17px;color:#fff;">分享</div>
<div class="a" style="left:13px;top:35px;width:2534px;height:74px;background:#fff;border-radius:10px;box-shadow:0 1px 1.5px rgba(60,60,70,0.28)"></div>
<div class="a" style="left:89px;top:39px;width:1px;height:66px;background:#e1e1e1"></div>
<div class="a" style="left:324px;top:39px;width:1px;height:66px;background:#e1e1e1"></div>
<div class="a" style="left:879px;top:39px;width:1px;height:66px;background:#e1e1e1"></div>
<svg class="a" style="left:31px;top:48px;" width="17" height="18" viewBox="0 0 17 18" fill="none" stroke="#333" stroke-width="1.1" stroke-linecap="round" stroke-linejoin="round"><path d="M4.5 9.5V4A1.2 1.2 0 0 1 6.9 4V8.5V2.6A1.2 1.2 0 0 1 9.3 2.6V8.5V3.4A1.2 1.2 0 0 1 11.7 3.4V9V5.5A1.2 1.2 0 0 1 14.1 5.5V11A5.5 5.5 0 0 1 8.6 16.5C5.8 16.5 4.6 15 3.2 12.8L1.6 10.2A1.1 1.1 0 0 1 3.4 9Z"/></svg>
<div class="a" style="left:51.5px;top:49.0px;font-size:12px;line-height:16px;color:#1a1a1a;">手型</div>
<div class="a" style="left:25px;top:73px;width:56px;height:24px;background:#e9e9e9;border-radius:5px"></div>
<svg class="a" style="left:31px;top:77px;" width="16" height="17" viewBox="0 0 16 17" fill="none" stroke="#333" stroke-width="1.1" stroke-linecap="round" stroke-linejoin="round"><path d="M2 2L6.5 15L8.5 9.5L12.5 13.5L14 12L10 8L15 6Z"/></svg>
<div class="a" style="left:51.5px;top:77.0px;font-size:12px;line-height:16px;color:#1a1a1a;">选择</div>
<svg class="a" style="left:120px;top:47px" width="22" height="22" viewBox="0 0 22 22" fill="none" stroke-linecap="round" stroke-linejoin="round"><path d="M7 13.5H1.5V1.5H12.5V7" stroke="#333" stroke-width="1.2"/><path d="M3 13.5L5.5 15.5" stroke="#333" stroke-width="1.1"/><rect x="7.5" y="7.5" width="12.5" height="12.5" stroke="#333" stroke-width="1.2"/><path d="M10 10.5L11.5 17L13.7 12.5L15.9 17L17.4 10.5" stroke="#2f62e8" stroke-width="1.2"/></svg>
<div class="a" style="left:103.5px;top:77.0px;font-size:12px;line-height:16px;color:#1a1a1a;">PDF转换</div>
<svg class="a" style="left:151.9px;top:82.9px;" width="7.2" height="5.2" viewBox="0 0 7.2 5.2" fill="none" stroke="#444" stroke-width="1.2" stroke-linecap="round" stroke-linejoin="round"><polyline points="1,1.6 3.6,4.2 6.2,1.6"/></svg>
<svg class="a" style="left:194px;top:47px" width="22" height="22" viewBox="0 0 22 22" fill="none" stroke-linecap="round" stroke-linejoin="round"><path d="M3 5.5V20H20V1.5H3V3" stroke="#333" stroke-width="1.3"/><path d="M3.5 19.5L13.5 9.5L19.5 15.5" stroke="#333" stroke-width="1.2"/><path d="M0.5 7H6.5M4.5 5L6.5 7L4.5 9" stroke="#2f62e8" stroke-width="1.2"/></svg>
<div class="a" style="left:170.8px;top:77.0px;font-size:12px;line-height:16px;color:#1a1a1a;">输出为图片</div>
<svg class="a" style="left:233.9px;top:82.9px;" width="7.2" height="5.2" viewBox="0 0 7.2 5.2" fill="none" stroke="#444" stroke-width="1.2" stroke-linecap="round" stroke-linejoin="round"><polyline points="1,1.6 3.6,4.2 6.2,1.6"/></svg>
<svg class="a" style="left:272px;top:47px;" width="20" height="22" viewBox="0 0 20 22" fill="none" stroke="#333" stroke-width="1.2" stroke-linecap="round" stroke-linejoin="round"><path d="M1.5 14.5V1.5H10.5L13 4V6"/><path d="M6.5 20.5V6.5H15.5L18.5 9.5V20.5Z"/><path d="M5 11H9V15H5"/></svg>
<div class="a" style="left:253.3px;top:77.0px;font-size:12px;line-height:16px;color:#1a1a1a;">拆分合并</div>
<svg class="a" style="left:303.9px;top:82.9px;" width="7.2" height="5.2" viewBox="0 0 7.2 5.2" fill="none" stroke="#444" stroke-width="1.2" stroke-linecap="round" stroke-linejoin="round"><polyline points="1,1.6 3.6,4.2 6.2,1.6"/></svg>
<svg class="a" style="left:344px;top:47px" width="22" height="22" viewBox="0 0 22 22" fill="none"><circle cx="10.8" cy="10.9" r="9.8" stroke="#333" stroke-width="1.2"/><path d="M8.5 6.8L15.2 10.9L8.5 15Z" stroke="#e0612b" stroke-width="1.3" stroke-linejoin="round"/></svg>
<div class="a" style="left:343.4px;top:77.0px;font-size:12px;line-height:16px;color:#1a1a1a;">播放</div>
<div class="a" style="left:384.5px;top:45.3px;width:86.7px;height:23.3px;background:#fff;border:1px solid #c8c8c8;border-radius:4px"></div>
<div class="a" style="left:392px;top:49.5px;font-size:12.5px;line-height:16.5px;color:#1a1a1a;">800%</div>
<svg class="a" style="left:455px;top:53.5px;" width="10" height="8" viewBox="0 0 10 8" fill="none" stroke="#555" stroke-width="1.1" stroke-linecap="round" stroke-linejoin="round"><polyline points="1,2.4 5,6.4 9,2.4"/></svg>
<svg class="a" style="left:479px;top:47px;" width="20" height="20" viewBox="0 0 20 20" fill="none" stroke="#333" stroke-width="1.2" stroke-linecap="round" stroke-linejoin="round"><circle cx="8" cy="8.5" r="6.6"/><path d="M5 8.5H11"/><path d="M12.8 13.3L17.2 17.7"/></svg>
<svg class="a" style="left:509px;top:47px;" width="20" height="20" viewBox="0 0 20 20" fill="none" stroke="#333" stroke-width="1.2" stroke-linecap="round" stroke-linejoin="round"><circle cx="8" cy="8.5" r="6.6"/><path d="M5 8.5H11M8 5.5V11.5"/><path d="M12.8 13.3L17.2 17.7"/></svg>
<svg class="a" style="left:556px;top:46px" width="24" height="24" viewBox="0 0 24 24" fill="none" stroke-linecap="round" stroke-linejoin="round"><path d="M11 14H1.5V2.5H9L11 4.5V8" stroke="#333" stroke-width="1.2"/><path d="M7 8.5H18.5V18.5L15.5 21.5H7Z" fill="#fff" stroke="#333" stroke-width="1.2"/><path d="M13 4H20.5M15 2L13 4L15 6M20.5 4V8M18.5 6L20.5 8L22.5 6" stroke="#2f62e8" stroke-width="1.1"/></svg>
<svg class="a" style="left:390px;top:77px" width="18" height="16" viewBox="0 0 18 16" fill="none"><rect x="1" y="1" width="15.5" height="14" stroke="#333" stroke-width="1.2"/><path d="M5 4.5V12M12.5 4.5V12" stroke="#333" stroke-width="1.2"/><path d="M8.8 6.3V7.3M8.8 9.5V10.5" stroke="#2f62e8" stroke-width="1.3"/></svg>
<svg class="a" style="left:421px;top:77px;" width="16" height="16" viewBox="0 0 16 16" fill="none" stroke="#333" stroke-width="1.2" stroke-linecap="round" stroke-linejoin="round"><path d="M1 4V1H4M12 1H15V4M15 12V15H12M4 15H1V12"/><rect x="3.5" y="3.5" width="9" height="9"/></svg>
<svg class="a" style="left:450px;top:77px;" width="18" height="17" viewBox="0 0 18 17" fill="none" stroke="#333" stroke-width="1.2" stroke-linecap="round" stroke-linejoin="round"><path d="M3 11V1.5H15V11"/><path d="M1.5 14H16.5M4 12L1.5 14L4 16M14 12L16.5 14L14 16"/></svg>
<svg class="a" style="left:480px;top:77px;" width="18" height="17" viewBox="0 0 18 17" fill="none" stroke="#333" stroke-width="1.2" stroke-linecap="round" stroke-linejoin="round"><rect x="7.5" y="6.5" width="9" height="9.5"/><path d="M13 2H5.5A3 3 0 0 0 2.5 5V10M0.8 8.3L2.5 10L4.2 8.3"/></svg>
<svg class="a" style="left:510px;top:77px;" width="18" height="17" viewBox="0 0 18 17" fill="none" stroke="#333" stroke-width="1.2" stroke-linecap="round" stroke-linejoin="round"><rect x="1.5" y="6.5" width="9" height="9.5"/><path d="M5 2H12.5A3 3 0 0 1 15.5 5V10M13.8 8.3L15.5 10L17.2 8.3"/></svg>
<div class="a" style="left:538px;top:77.0px;font-size:12px;line-height:16px;color:#1a1a1a;">旋转文档</div>
<svg class="a" style="left:588.9px;top:82.9px;" width="7.2" height="5.2" viewBox="0 0 7.2 5.2" fill="none" stroke="#444" stroke-width="1.2" stroke-linecap="round" stroke-linejoin="round"><polyline points="1,1.6 3.6,4.2 6.2,1.6"/></svg>
<svg class="a" style="left:609px;top:49px;" width="12" height="15" viewBox="0 0 12 15" fill="none" stroke="#b5b5b5" stroke-width="1.2" stroke-linecap="round" stroke-linejoin="round"><path d="M2 1.5V13.5M9.5 1.5L4 7.5L9.5 13.5"/></svg>
<svg class="a" style="left:635px;top:49px;" width="12" height="15" viewBox="0 0 12 15" fill="none" stroke="#b5b5b5" stroke-width="1.2" stroke-linecap="round" stroke-linejoin="round"><path d="M8.5 1.5L3 7.5L8.5 13.5"/></svg>
<div class="a" style="left:655.3px;top:46.4px;width:103.1px;height:21.2px;background:#fff;border:1px solid #c8c8c8;border-radius:5px"></div>
<div class="a" style="left:697px;top:48.8px;font-size:12.5px;line-height:16.5px;color:#1a1a1a;">1/2</div>
<svg class="a" style="left:767px;top:49px;" width="12" height="15" viewBox="0 0 12 15" fill="none" stroke="#333" stroke-width="1.2" stroke-linecap="round" stroke-linejoin="round"><path d="M3 1.5L8.5 7.5L3 13.5"/></svg>
<svg class="a" style="left:793px;top:49px;" width="12" height="15" viewBox="0 0 12 15" fill="none" stroke="#333" stroke-width="1.2" stroke-linecap="round" stroke-linejoin="round"><path d="M1.5 1.5L7 7.5L1.5 13.5M10 1.5V13.5"/></svg>
<svg class="a" style="left:831px;top:47px" width="22" height="23" viewBox="0 0 22 23" fill="none" stroke-linejoin="round"><path d="M1.5 2.5C5 1 8 1.5 11 3.5C14 1.5 17 1 20.5 2.5V19.5C17 18.5 14 19 11 21C8 19 5 18.5 1.5 19.5Z" stroke="#333" stroke-width="1.2"/><path d="M11 3.5V19" stroke="#2f62e8" stroke-width="1.2"/></svg>
<div class="a" style="left:603.3px;top:73.1px;width:55.3px;height:23.4px;background:#e9e9e9;border-radius:5px"></div>
<svg class="a" style="left:609px;top:77px;" width="16" height="17" viewBox="0 0 16 17" fill="none" stroke="#333" stroke-width="1.2" stroke-linecap="round" stroke-linejoin="round"><rect x="1.5" y="1.5" width="13" height="14"/><path d="M4.5 5.5H11.5M4.5 8.5H8"/></svg>
<div class="a" style="left:628.7px;top:77.0px;font-size:12px;line-height:16px;color:#1a1a1a;">单页</div>
<svg class="a" style="left:666px;top:77px;" width="17" height="17" viewBox="0 0 17 17" fill="none" stroke="#333" stroke-width="1.2" stroke-linecap="round" stroke-linejoin="round"><rect x="1" y="1.5" width="6" height="14"/><rect x="9.5" y="1.5" width="6" height="14"/><path d="M3 5H5M11.5 5H13.5"/></svg>
<div class="a" style="left:686.7px;top:77.0px;font-size:12px;line-height:16px;color:#1a1a1a;">双页</div>
<svg class="a" style="left:715.9px;top:82.9px;" width="7.2" height="5.2" viewBox="0 0 7.2 5.2" fill="none" stroke="#444" stroke-width="1.2" stroke-linecap="round" stroke-linejoin="round"><polyline points="1,1.6 3.6,4.2 6.2,1.6"/></svg>
<div class="a" style="left:731px;top:73.1px;width:79.7px;height:23.4px;background:#e9e9e9;border-radius:5px"></div>
<svg class="a" style="left:737px;top:77px;" width="16" height="17" viewBox="0 0 16 17" fill="none" stroke="#333" stroke-width="1.3" stroke-linecap="round" stroke-linejoin="round"><path d="M1.5 1V6.5H14.5V1M1.5 16V10.5H14.5V16"/></svg>
<div class="a" style="left:757px;top:77.0px;font-size:12px;line-height:16px;color:#1a1a1a;">连续阅读</div>
<div class="a" style="left:818.2px;top:77.0px;font-size:12px;line-height:16px;color:#1a1a1a;">阅读模式</div>
<div class="a" style="left:888.2px;top:45.2px;width:57.4px;height:51.2px;background:#e9e9e9;border-radius:6px"></div>
<svg class="a" style="left:905px;top:47px;" width="24" height="23" viewBox="0 0 24 23" fill="none" stroke="#333" stroke-width="1.3" stroke-linecap="round" stroke-linejoin="round"><circle cx="10" cy="9.5" r="7.8"/><path d="M15.6 15.2L21.5 21"/></svg>
<div class="a" style="left:893.3px;top:77.0px;font-size:12px;line-height:16px;color:#1a1a1a;">查找替换</div>
<svg class="a" style="left:965px;top:47px" width="24" height="23" viewBox="0 0 24 23" fill="none" stroke-linecap="round" stroke-linejoin="round"><path d="M4.5 2H18.5M4.5 21H18.5M2 4.5V18.5M21 4.5V18.5" stroke="#333" stroke-width="1.2"/><circle cx="2" cy="2" r="1.1" stroke="#333" stroke-width="1"/><circle cx="21" cy="2" r="1.1" stroke="#333" stroke-width="1"/><circle cx="2" cy="21" r="1.1" stroke="#333" stroke-width="1"/><circle cx="21" cy="21" r="1.1" stroke="#333" stroke-width="1"/><path d="M6.5 16.5L7 13L14 6L17 9L10 16Z" stroke="#2f62e8" stroke-width="1.2"/></svg>
<div class="a" style="left:953px;top:77.0px;font-size:12px;line-height:16px;color:#1a1a1a;">编辑内容</div>
<svg class="a" style="left:1026px;top:47px;" width="22" height="23" viewBox="0 0 22 23" fill="none" stroke="#333" stroke-width="1.2" stroke-linecap="round" stroke-linejoin="round"><path d="M1.5 5V1.5H5M16 1.5H19.5V5M19.5 16.5V20H16M5 20H1.5V16.5"/><path d="M5 18V10H9V18M9 18V4.5H13V18M13 18V12H17V18M3.5 18H18"/></svg>
<div class="a" style="left:1013px;top:77.0px;font-size:12px;line-height:16px;color:#1a1a1a;">识别表格</div>
<svg class="a" style="left:1086px;top:47px" width="22" height="23" viewBox="0 0 22 23" fill="none" stroke-linecap="round" stroke-linejoin="round"><path d="M5 2H1.5V5.5M1.5 16.5V20H5M17 2H20.5V5.5M20.5 16.5V20H17" stroke="#333" stroke-width="1.2"/><circle cx="15" cy="6.5" r="1.3" stroke="#333" stroke-width="1"/><path d="M10.5 0.8V21.5" stroke="#d4203b" stroke-width="1.3"/><path d="M4 5H10.5V17.5H4Z M4 5L10.5 17.5" stroke="#d4203b" stroke-width="1.2"/></svg>
<div class="a" style="left:1073.4px;top:77.0px;font-size:12px;line-height:16px;color:#1a1a1a;">截图对比</div>
<svg class="a" style="left:1137px;top:47px" width="25" height="23" viewBox="0 0 25 23" fill="none" stroke-linecap="round" stroke-linejoin="round"><path d="M5.5 2C9 2.5 15 2.5 19 2C17.5 8 17.5 15 19 21C15 20.5 9 20.5 5.5 21C7 15 7 8 5.5 2Z" stroke="#333" stroke-width="1.2"/><path d="M9.5 9H15M9.5 13H15" stroke="#333" stroke-width="1.2"/><path d="M1.5 6.5C3 9.5 3 13.5 1.5 16.5M23.5 6.5C22 9.5 22 13.5 23.5 16.5" stroke="#d4203b" stroke-width="1.3"/></svg>
<div class="a" style="left:1137.8px;top:77.0px;font-size:12px;line-height:16px;color:#1a1a1a;">压缩</div>
<svg class="a" style="left:1180px;top:49px" width="16" height="16" viewBox="0 0 16 16" fill="none" stroke-linejoin="round"><path d="M1 2.5H8.5V13.5H1Z" stroke="#888" stroke-width="1"/><path d="M8.5 2.5L14.5 3.5V14.5L8.5 13.5" stroke="#888" stroke-width="1"/><path d="M2.8 11L4.8 5L6.8 11M3.5 9H6" stroke="#2f62e8" stroke-width="1"/><path d="M10 6H13L10 11H13" stroke="#777" stroke-width="0.9"/></svg>
<div class="a" style="left:1200px;top:49.0px;font-size:12px;line-height:16px;color:#1a1a1a;">全文翻译</div>
<svg class="a" style="left:1180px;top:76px;" width="17" height="18" viewBox="0 0 17 18" fill="none" stroke="#333" stroke-width="1.1" stroke-linecap="round" stroke-linejoin="round"><path d="M1.5 7L4 1L6.5 7M2.3 5H5.7"/><path d="M10 1.5H13V4M1.5 10V14H4"/><rect x="8.5" y="9" width="8" height="6"/><path d="M12.5 7V17"/></svg>
<div class="a" style="left:1200px;top:77.0px;font-size:12px;line-height:16px;color:#1a1a1a;">划词翻译</div>
<svg class="a" style="left:1252.4px;top:82.9px;" width="7.2" height="5.2" viewBox="0 0 7.2 5.2" fill="none" stroke="#444" stroke-width="1.2" stroke-linecap="round" stroke-linejoin="round"><polyline points="1,1.6 3.6,4.2 6.2,1.6"/></svg>
<div class="a" style="left:55px;top:110px;width:1px;height:1218px;background:#cfd1d6"></div>
<svg class="a" style="left:18px;top:133px" width="18" height="16" viewBox="0 0 18 16"><path d="M5.2 1.4L6.5 4.3L9.5 5.6L6.5 6.9L5.2 9.8L3.9 6.9L0.9 5.6L3.9 4.3Z" fill="#333"/><path d="M5.3 10.3L6.2 12.4L8.4 13.3L6.2 14.2L5.3 16.3L4.4 14.2L2.2 13.3L4.4 12.4Z" fill="#333"/><path d="M10.3 5.6H16.7M10.3 13.3H16.7" stroke="#333" stroke-width="1.3"/></svg>
<div class="a" style="left:12px;top:166px;width:31.6px;height:32px;background:#d3d6de;border-radius:8px"></div>
<svg class="a" style="left:20px;top:173px;" width="15" height="18" viewBox="0 0 15 18" fill="none" stroke="#333" stroke-width="1.2" stroke-linecap="round" stroke-linejoin="round"><path d="M1.5 1.5H13V16.5L7.2 12.3L1.5 16.5Z"/></svg>
<svg class="a" style="left:20px;top:213px;" width="16" height="18" viewBox="0 0 16 18" fill="none" stroke="#333" stroke-width="1.1" stroke-linecap="round" stroke-linejoin="round"><rect x="1.5" y="1.5" width="13.5" height="15.5"/><rect x="3.8" y="3.8" width="9" height="7.5" stroke-width="1.3"/><path d="M4 9.3L7 7.2L10 9.6"/><circle cx="11" cy="5.7" r="0.5"/></svg>
<svg class="a" style="left:19px;top:253px;" width="18" height="17" viewBox="0 0 18 17" fill="none" stroke="#333" stroke-width="1.2" stroke-linecap="round" stroke-linejoin="round"><path d="M1.5 1.5H16.5V12.5H5L1.5 15.5Z"/></svg>
<svg class="a" style="left:19px;top:293px;" width="18" height="18" viewBox="0 0 18 18" fill="none" stroke="#333" stroke-width="1.2" stroke-linecap="round" stroke-linejoin="round"><path d="M6.5 9.5L12 15A3.2 3.2 0 0 0 16.5 10.5L8.5 2.5A2.3 2.3 0 0 0 5.2 5.8L12 12.6A1.2 1.2 0 0 0 13.7 10.9L8 5.2"/></svg>
<svg class="a" style="left:19px;top:333px;" width="18" height="18" viewBox="0 0 18 18" fill="none" stroke="#333" stroke-width="1.1" stroke-linecap="round" stroke-linejoin="round"><path d="M5.5 11L7 6.5L11 4L14 7L11.5 11Z"/><path d="M11 4L12.5 2.2L15.8 5.5L14 7"/><path d="M5.5 11L9 8"/><path d="M1.5 16.2H16.5"/></svg>
<svg class="a" style="left:19px;top:372px;" width="18" height="18" viewBox="0 0 18 18" fill="none" stroke="#333" stroke-width="1.1" stroke-linecap="round" stroke-linejoin="round"><path d="M9 1.5L16 5L9 8.5L2 5Z"/><path d="M2 8.5L9 12L16 8.5"/><path d="M2 12L9 15.5L16 12"/></svg>
<div class="a" style="left:316px;top:110px;width:1px;height:1218px;background:#cfd1d6"></div>
<div class="a" style="left:68.4px;top:130.5px;font-size:14px;line-height:18px;color:#1a1a1a;">书签</div>
<svg class="a" style="left:286px;top:132px;" width="12" height="12" viewBox="0 0 12 12" fill="none" stroke="#333" stroke-width="1.2" stroke-linecap="round" stroke-linejoin="round"><path d="M1 1L11 11M11 1L1 11"/></svg>
<div class="a" style="left:68.5px;top:166.4px;width:235px;height:30.9px;background:#fff;border:1px solid #d4d6da;border-bottom-color:#c2c4c8;border-radius:5px"></div>
<svg class="a" style="left:80px;top:175px;" width="17" height="17" viewBox="0 0 17 17" fill="none" stroke="#333" stroke-width="1.2" stroke-linecap="round" stroke-linejoin="round"><circle cx="7" cy="7" r="5.7"/><path d="M11.2 11.2L15 15"/></svg>
<div class="a" style="left:105.9px;top:174.0px;font-size:12px;line-height:16px;color:#a9a9a9;">书签查找</div>
<div class="a" style="left:68.5px;top:206.4px;width:76.7px;height:22.9px;background:#fff;border:1px solid #d4d6da;border-bottom-color:#c2c4c8;border-radius:4px"></div>
<div class="a" style="left:150.9px;top:206.4px;width:22.5px;height:22.9px;background:#fff;border:1px solid #d4d6da;border-bottom-color:#c2c4c8;border-radius:4px"></div>
<div class="a" style="left:178.6px;top:206.4px;width:22.9px;height:22.9px;background:#fff;border:1px solid #d4d6da;border-bottom-color:#c2c4c8;border-radius:4px"></div>
<svg class="a" style="left:72px;top:209px;" width="14" height="18" viewBox="0 0 14 18" fill="none" stroke="#333" stroke-width="1.1" stroke-linecap="round" stroke-linejoin="round"><path d="M1.5 1.5H12.5V16L7 12L1.5 16Z"/><path d="M7 4.5V10M4.2 7.2H9.8"/></svg>
<div class="a" style="left:93.5px;top:210.0px;font-size:12px;line-height:16px;color:#1a1a1a;">添加书签</div>
<svg class="a" style="left:155px;top:209px;" width="14" height="18" viewBox="0 0 14 18" fill="none" stroke="#333" stroke-width="1.1" stroke-linecap="round" stroke-linejoin="round"><path d="M1 3.5H13M5 3.5V1.5H9V3.5"/><path d="M2.5 3.5L3.5 15.5H10.5L11.5 3.5"/></svg>
<div class="a" style="left:183px;top:216px;width:14px;height:3px"><div class="a" style="left:0;top:0;width:2.4px;height:2.4px;background:#222;border-radius:50%"></div><div class="a" style="left:5.6px;top:0;width:2.4px;height:2.4px;background:#222;border-radius:50%"></div><div class="a" style="left:11.2px;top:0;width:2.4px;height:2.4px;background:#222;border-radius:50%"></div></div>
<div class="a" style="left:68.4px;top:246.2px;width:235.2px;height:31.2px;background:#d3dcef;border-radius:5px"></div>
<svg class="a" style="left:80px;top:253px;" width="15" height="18" viewBox="0 0 15 18" fill="none" stroke="#333" stroke-width="1.1" stroke-linecap="round" stroke-linejoin="round"><path d="M1.5 1.5H13V16L7.2 11.5L1.5 16Z"/></svg>
<div class="a" style="left:104.5px;top:253.8px;font-size:12.5px;line-height:16.5px;color:#3a6ad6;">AI8051U V1.2-1</div>
<div class="a" style="left:290.5px;top:253.8px;font-size:12.5px;line-height:16.5px;color:#3a6ad6;">1</div>
<svg class="a" style="left:80px;top:287px;" width="15" height="18" viewBox="0 0 15 18" fill="none" stroke="#333" stroke-width="1.1" stroke-linecap="round" stroke-linejoin="round"><path d="M1.5 1.5H13V16L7.2 11.5L1.5 16Z"/></svg>
<div class="a" style="left:104.5px;top:287.8px;font-size:12.5px;line-height:16.5px;color:#1a1a1a;">AI8051U V1.2-2</div>
<div class="a" style="left:289.5px;top:287.8px;font-size:12.5px;line-height:16.5px;color:#555;">2</div>
<div class="a" style="left:2238px;top:110px;width:1px;height:1218px;background:#d2d2c6"></div>
<div class="a" style="left:2504px;top:110px;width:1px;height:1218px;background:#d2d2c6"></div>
<div class="a" style="left:2259px;top:126.0px;font-size:14px;line-height:18px;color:#1a1a1a;">查找替换</div>
<svg class="a" style="left:2321.2px;top:132.7px;" width="7.6" height="5.6" viewBox="0 0 7.6 5.6" fill="none" stroke="#333" stroke-width="1.3" stroke-linecap="round" stroke-linejoin="round"><polyline points="1,1.7 3.8,4.5 6.6,1.7"/></svg>
<svg class="a" style="left:2441px;top:127px;" width="15" height="15" viewBox="0 0 15 15" fill="none" stroke="#333" stroke-width="1.1" stroke-linecap="round" stroke-linejoin="round"><path d="M8.5 1.5L13.5 6.5L11 7.5L8.5 10.5L8.5 12.5L2.5 6.5L4.5 6.5L7.5 4Z"/><path d="M5.5 9.5L1.5 13.5"/></svg>
<svg class="a" style="left:2470px;top:128px;" width="12" height="12" viewBox="0 0 12 12" fill="none" stroke="#333" stroke-width="1.2" stroke-linecap="round" stroke-linejoin="round"><path d="M1 1L11 11M11 1L1 11"/></svg>
<div class="a" style="left:2254.9px;top:158.8px;width:234.4px;height:26.4px;background:#fff;border:1px solid #e2e2dc;border-radius:6px"></div>
<div class="a" style="left:2256px;top:160px;width:115.8px;height:23.5px;background:#e4e4e4;border-radius:5px"></div>
<div class="a" style="left:2302px;top:163.5px;font-size:13px;line-height:17px;color:#1a1a1a;">查找</div>
<div class="a" style="left:2419px;top:163.5px;font-size:13px;line-height:17px;color:#1a1a1a;">替换</div>
<div class="a" style="left:2254.9px;top:202.8px;width:236.3px;height:28.5px;background:#fff;border:1px solid #d8d8d2;border-bottom-color:#c4c4be;border-radius:6px"></div>
<svg class="a" style="left:2266px;top:208px;" width="17" height="17" viewBox="0 0 17 17" fill="none" stroke="#333" stroke-width="1.2" stroke-linecap="round" stroke-linejoin="round"><circle cx="7" cy="7" r="5.7"/><path d="M11.2 11.2L15 15"/></svg>
<div class="a" style="left:2290px;top:209.5px;font-size:12px;line-height:16px;color:#a9a9a9;">请输入查找内容...</div>
<svg class="a" style="left:2469px;top:210px;" width="16" height="16" viewBox="0 0 16 16" fill="none" stroke="#333" stroke-width="1.0" stroke-linecap="round" stroke-linejoin="round"><path d="M6.6 1.5H9.4L9.9 3.4L11.6 4.4L13.5 3.8L14.9 6.2L13.5 7.6V9.4L14.9 10.8L13.5 13.2L11.6 12.6L9.9 13.6L9.4 15.5H6.6L6.1 13.6L4.4 12.6L2.5 13.2L1.1 10.8L2.5 9.4V7.6L1.1 6.2L2.5 3.8L4.4 4.4L6.1 3.4Z"/><circle cx="8" cy="8.5" r="2.2"/></svg>
<div class="a" style="left:2254.6px;top:243.9px;width:62.5px;height:24.2px;background:#efefec;border:1px solid #d9d9d0;border-radius:5px"></div>
<div class="a" style="left:2254.6px;top:248px;width:62.5px;text-align:center;font-size:12px;line-height:16px;color:#a8a8a8">上一处</div>
<div class="a" style="left:2327.5px;top:243.9px;width:62.5px;height:24.2px;background:#efefec;border:1px solid #d9d9d0;border-radius:5px"></div>
<div class="a" style="left:2327.5px;top:248px;width:62.5px;text-align:center;font-size:12px;line-height:16px;color:#a8a8a8">下一处</div>
<div class="a" style="left:2400.7px;top:243.9px;width:90.5px;height:24.2px;background:#efefec;border:1px solid #d9d9d0;border-radius:5px"></div>
<div class="a" style="left:2400.7px;top:248px;width:90.5px;text-align:center;font-size:12px;line-height:16px;color:#a8a8a8">AI 查找全部</div>
<svg class="a" style="left:2524px;top:133px;" width="16" height="3" viewBox="0 0 16 3" fill="none" stroke="#555" stroke-width="1.3" stroke-linecap="round" stroke-linejoin="round"><path d="M1 1.2H15"/></svg>
<div class="a" style="left:2516px;top:150.4px;width:32px;height:31px;background:#d7d6c9;border-radius:7px"></div>
<svg class="a" style="left:2523px;top:157px;" width="18" height="18" viewBox="0 0 18 18" fill="none" stroke="#333" stroke-width="1.3" stroke-linecap="round" stroke-linejoin="round"><circle cx="7" cy="7" r="5.6"/><path d="M11 11L16 16"/></svg>
<svg class="a" style="left:2524px;top:196px;" width="17" height="18" viewBox="0 0 17 18" fill="none" stroke="#333" stroke-width="1.0" stroke-linecap="round" stroke-linejoin="round"><path d="M1.5 7L3.8 1L6.1 7M2.2 5H5.4"/><path d="M10 1.5H13V3.5M1.5 10V14H4"/><rect x="8.5" y="9" width="7.5" height="5.5"/><path d="M12.2 7V16.5"/></svg>
<svg class="a" style="left:2524px;top:237px;" width="17" height="17" viewBox="0 0 17 17" fill="none" stroke="#333" stroke-width="1.1" stroke-linecap="round" stroke-linejoin="round"><path d="M1 4.5H15M1 11.5H15"/><circle cx="5" cy="4.5" r="2.2" fill="#eae9dc"/><circle cx="11" cy="11.5" r="2.2" fill="#eae9dc"/></svg>
<svg class="a" style="left:2524px;top:277px;" width="17" height="17" viewBox="0 0 17 17" fill="none" stroke="#333" stroke-width="1.0" stroke-linecap="round" stroke-linejoin="round"><path d="M1.5 2L6 3.5L13 2V6M1.5 2V13.5L6 15.5L8 14.5M6 3.5V15.5"/><circle cx="11" cy="10.5" r="2.8"/><path d="M13 12.5L15.5 15"/></svg>
<svg class="a" style="left:2523px;top:317px;" width="18" height="18" viewBox="0 0 18 18" fill="none" stroke="#333" stroke-width="1.1" stroke-linecap="round" stroke-linejoin="round"><circle cx="9" cy="9" r="7.3"/><path d="M6.8 7A2.3 2.3 0 1 1 9.8 9.3C9.2 9.6 9 10 9 10.8"/><circle cx="9" cy="13.3" r="0.4"/></svg>
<svg class="a" style="left:2523px;top:361px;" width="18" height="8" viewBox="0 0 18 8" fill="none" stroke="#333" stroke-width="1.0" stroke-linecap="round" stroke-linejoin="round"><circle cx="3" cy="4" r="1.6"/><circle cx="9" cy="4" r="1.6"/><circle cx="15" cy="4" r="1.6"/></svg>
<svg class="a" style="left:2226px;top:117px;" width="9" height="7" viewBox="0 0 9 7" fill="none" stroke="none" stroke-width="1.2" stroke-linecap="round" stroke-linejoin="round"><path d="M1 6H8L4.5 1Z" fill="#666" stroke="none"/></svg>
<div class="a" style="left:2226px;top:263.7px;width:8.3px;height:110.9px;background:#cfcfc1;border-radius:4px"></div>
<svg class="a" style="left:2226px;top:1316px;" width="9" height="7" viewBox="0 0 9 7" fill="none" stroke="none" stroke-width="1.2" stroke-linecap="round" stroke-linejoin="round"><path d="M1 1H8L4.5 6Z" fill="#666" stroke="none"/></svg>
<svg class="a" style="left:325px;top:1316px;" width="7" height="9" viewBox="0 0 7 9" fill="none" stroke="none" stroke-width="1.2" stroke-linecap="round" stroke-linejoin="round"><path d="M6 1V8L1 4.5Z" fill="#666" stroke="none"/></svg>
<svg class="a" style="left:2207px;top:1316px;" width="7" height="9" viewBox="0 0 7 9" fill="none" stroke="none" stroke-width="1.2" stroke-linecap="round" stroke-linejoin="round"><path d="M1 1V8L6 4.5Z" fill="#666" stroke="none"/></svg>
<div class="a" style="left:819.5px;top:1316.4px;width:392.5px;height:7px;background:#cfcfc1;border-radius:4px"></div>
<div class="a" style="left:0px;top:1328px;width:2560px;height:1px;background:#d8d8cc"></div>
<svg class="a" style="left:16px;top:1333px;" width="16" height="14" viewBox="0 0 16 14" fill="none" stroke="#333" stroke-width="1.3" stroke-linecap="round" stroke-linejoin="round"><rect x="1.5" y="1.5" width="13" height="11"/><path d="M5 4V10"/></svg>
<div class="a" style="left:44px;top:1333px;width:1px;height:14px;background:#d0d0c4"></div>
<svg class="a" style="left:59px;top:1333px;" width="11" height="14" viewBox="0 0 11 14" fill="none" stroke="#b5b5b5" stroke-width="1.1" stroke-linecap="round" stroke-linejoin="round"><path d="M2 1.5V12.5M9 1.5L4 7L9 12.5"/></svg>
<svg class="a" style="left:91px;top:1333px;" width="11" height="14" viewBox="0 0 11 14" fill="none" stroke="#b5b5b5" stroke-width="1.1" stroke-linecap="round" stroke-linejoin="round"><path d="M8 1.5L3 7L8 12.5"/></svg>
<div class="a" style="left:117.7px;top:1330.4px;width:108.7px;height:18.9px;background:#fff;border:1px solid #c2c2ba;border-radius:4px"></div>
<div class="a" style="left:163px;top:1331.8px;font-size:12.5px;line-height:16.5px;color:#1a1a1a;">1/2</div>
<svg class="a" style="left:241px;top:1333px;" width="11" height="14" viewBox="0 0 11 14" fill="none" stroke="#333" stroke-width="1.1" stroke-linecap="round" stroke-linejoin="round"><path d="M3 1.5L8 7L3 12.5"/></svg>
<svg class="a" style="left:272px;top:1333px;" width="12" height="14" viewBox="0 0 12 14" fill="none" stroke="#333" stroke-width="1.1" stroke-linecap="round" stroke-linejoin="round"><path d="M1.5 1.5L6.5 7L1.5 12.5M10 1.5V12.5"/></svg>
<div class="a" style="left:299px;top:1333px;width:1px;height:14px;background:#d0d0c4"></div>
<div class="a" style="left:312px;top:1332.0px;font-size:12px;line-height:16px;color:#1a1a1a;">回到第1页</div>
<div class="a" style="left:379px;top:1333px;width:1px;height:14px;background:#d0d0c4"></div>
<div class="a" style="left:391.9px;top:1332.0px;font-size:12px;line-height:16px;color:#1a1a1a;">校对</div>
<svg class="a" style="left:1965px;top:1333px;" width="18" height="13" viewBox="0 0 18 13" fill="none" stroke="#333" stroke-width="1.1" stroke-linecap="round" stroke-linejoin="round"><path d="M1 6.5C4 1.5 13 1.5 16.5 6.5C13 11.5 4 11.5 1 6.5Z"/><circle cx="8.8" cy="6.5" r="2.2"/></svg>
<svg class="a" style="left:1986.6px;top:1338.1px;" width="6.8" height="4.8" viewBox="0 0 6.8 4.8" fill="none" stroke="#333" stroke-width="1.2" stroke-linecap="round" stroke-linejoin="round"><polyline points="1,1.4 3.4,3.8 5.8,1.4"/></svg>
<div class="a" style="left:2008px;top:1333px;width:1px;height:14px;background:#cfcfc2"></div>
<div class="a" style="left:2017.2px;top:1328.5px;width:23.3px;height:22.5px;background:#d8d8cb;border-radius:4px"></div>
<svg class="a" style="left:2021px;top:1332px;" width="16" height="16" viewBox="0 0 16 16" fill="none" stroke="#333" stroke-width="1.2" stroke-linecap="round" stroke-linejoin="round"><path d="M2 1V6H14V1M2 15V10H14V15"/></svg>
<div class="a" style="left:2049.5px;top:1333px;width:1px;height:14px;background:#cfcfc2"></div>
<div class="a" style="left:2058.4px;top:1328.5px;width:23.1px;height:22.5px;background:#d8d8cb;border-radius:4px"></div>
<svg class="a" style="left:2063px;top:1332px;" width="14" height="16" viewBox="0 0 14 16" fill="none" stroke="#333" stroke-width="1.2" stroke-linecap="round" stroke-linejoin="round"><rect x="1.5" y="1.5" width="11" height="13"/><path d="M4 5H10M4 8H7.5"/></svg>
<svg class="a" style="left:2094px;top:1332px;" width="15" height="16" viewBox="0 0 15 16" fill="none" stroke="#333" stroke-width="1.2" stroke-linecap="round" stroke-linejoin="round"><rect x="1.5" y="1.5" width="4.5" height="13"/><rect x="8.5" y="1.5" width="4.5" height="13"/></svg>
<div class="a" style="left:2122.5px;top:1333px;width:1px;height:14px;background:#cfcfc2"></div>
<div class="a" style="left:2133px;top:1331.2px;width:20px;height:17.4px;background:#e0325a;border-radius:3px"></div>
<svg class="a" style="left:2138px;top:1334px;" width="10" height="12" viewBox="0 0 10 12" fill="none" stroke="none" stroke-width="1.2" stroke-linecap="round" stroke-linejoin="round"><path d="M2 1.5L8.5 6L2 10.5Z" fill="#fff" stroke="none"/></svg>
<div class="a" style="left:2163.5px;top:1333px;width:1px;height:14px;background:#cfcfc2"></div>
<svg class="a" style="left:2177px;top:1332px" width="15" height="15" viewBox="0 0 15 15" fill="none"><rect x="1" y="1" width="13" height="13" stroke="#333" stroke-width="1.2"/><path d="M4.5 4V11M10.5 4V11M7.5 5.5V6.3M7.5 8.5V9.3" stroke="#333" stroke-width="1.1"/></svg>
<svg class="a" style="left:2209px;top:1332px;" width="15" height="15" viewBox="0 0 15 15" fill="none" stroke="#333" stroke-width="1.2" stroke-linecap="round" stroke-linejoin="round"><path d="M1 4V1H4M11 1H14V4M14 11V14H11M4 14H1V11"/><rect x="3.5" y="3.5" width="8" height="8"/></svg>
<svg class="a" style="left:2240px;top:1332px;" width="16" height="16" viewBox="0 0 16 16" fill="none" stroke="#333" stroke-width="1.2" stroke-linecap="round" stroke-linejoin="round"><path d="M3 10V1.5H13V10"/><path d="M1.5 12.5H14.5M3.5 10.5L1.5 12.5L3.5 14.5M12.5 10.5L14.5 12.5L12.5 14.5"/></svg>
<div class="a" style="left:2268.5px;top:1333px;width:1px;height:14px;background:#cfcfc2"></div>
<div class="a" style="left:2284px;top:1331.8px;font-size:12.5px;line-height:16.5px;color:#1a1a1a;">800%</div>
<svg class="a" style="left:2327.4px;top:1337.9px;" width="7.2" height="5.2" viewBox="0 0 7.2 5.2" fill="none" stroke="#333" stroke-width="1.3" stroke-linecap="round" stroke-linejoin="round"><polyline points="1,1.6 3.6,4.2 6.2,1.6"/></svg>
<div class="a" style="left:2352px;top:1339.2px;width:11.5px;height:1.8px;background:#222"></div>
<div class="a" style="left:2378.4px;top:1339.3px;width:57.6px;height:1.5px;background:#2463d6"></div>
<div class="a" style="left:2436px;top:1339.5px;width:47.7px;height:1.1px;background:#c2c2b8"></div>
<div class="a" style="left:2431.5px;top:1335.5px;width:9px;height:9px;background:#fff;border:2px solid #b9b9b0;border-radius:50%"></div>
<div class="a" style="left:2433.8px;top:1337.8px;width:4.4px;height:4.4px;background:#999;border-radius:50%"></div>
<svg class="a" style="left:2497px;top:1333px;" width="14" height="14" viewBox="0 0 14 14" fill="none" stroke="#222" stroke-width="1.8" stroke-linecap="round" stroke-linejoin="round"><path d="M7 1.5V12.5M1.5 7H12.5"/></svg>
<svg class="a" style="left:2529px;top:1332px;" width="16" height="16" viewBox="0 0 16 16" fill="none" stroke="#333" stroke-width="1.1" stroke-linecap="round" stroke-linejoin="round"><path d="M10 1.5H14.5V6M14.5 1.5L10.5 5.5M6 14.5H1.5V10M1.5 14.5L5.5 10.5M1.5 6V1.5H4.5M14.5 10V14.5H11.5"/></svg>
</body></html>
